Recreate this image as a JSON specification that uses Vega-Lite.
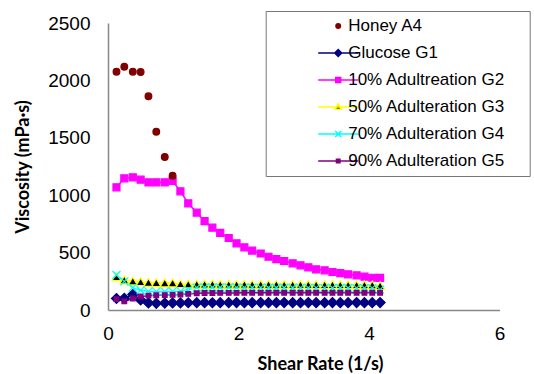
{
  "$schema": "https://vega.github.io/schema/vega-lite/v6.json",
  "width": 391.5,
  "height": 287,
  "autosize": {"type": "none"},
  "padding": {"left": 108, "top": 23, "right": 34.5, "bottom": 64},
  "background": "white",
  "config": {"view": {"stroke": null}},
  "data": {"values": [
    {"series": "Glucose G1", "x": 0.13, "y": 100}, {"series": "Glucose G1", "x": 0.25, "y": 102}, {"series": "Glucose G1", "x": 0.38, "y": 135}, {"series": "Glucose G1", "x": 0.50, "y": 87},
    {"series": "Glucose G1", "x": 0.62, "y": 62}, {"series": "Glucose G1", "x": 0.74, "y": 58}, {"series": "Glucose G1", "x": 0.87, "y": 60}, {"series": "Glucose G1", "x": 0.99, "y": 62},
    {"series": "Glucose G1", "x": 1.11, "y": 62}, {"series": "Glucose G1", "x": 1.23, "y": 63}, {"series": "Glucose G1", "x": 1.36, "y": 64}, {"series": "Glucose G1", "x": 1.48, "y": 64},
    {"series": "Glucose G1", "x": 1.60, "y": 63}, {"series": "Glucose G1", "x": 1.72, "y": 64}, {"series": "Glucose G1", "x": 1.85, "y": 64}, {"series": "Glucose G1", "x": 1.97, "y": 65},
    {"series": "Glucose G1", "x": 2.09, "y": 64}, {"series": "Glucose G1", "x": 2.21, "y": 64}, {"series": "Glucose G1", "x": 2.34, "y": 65}, {"series": "Glucose G1", "x": 2.46, "y": 64},
    {"series": "Glucose G1", "x": 2.58, "y": 64}, {"series": "Glucose G1", "x": 2.70, "y": 65}, {"series": "Glucose G1", "x": 2.83, "y": 64}, {"series": "Glucose G1", "x": 2.95, "y": 64},
    {"series": "Glucose G1", "x": 3.07, "y": 65}, {"series": "Glucose G1", "x": 3.19, "y": 64}, {"series": "Glucose G1", "x": 3.32, "y": 64}, {"series": "Glucose G1", "x": 3.44, "y": 65},
    {"series": "Glucose G1", "x": 3.56, "y": 64}, {"series": "Glucose G1", "x": 3.68, "y": 64}, {"series": "Glucose G1", "x": 3.81, "y": 65}, {"series": "Glucose G1", "x": 3.93, "y": 64},
    {"series": "Glucose G1", "x": 4.05, "y": 64}, {"series": "Glucose G1", "x": 4.17, "y": 65},

    {"series": "10% Adultreation G2", "x": 0.13, "y": 1069}, {"series": "10% Adultreation G2", "x": 0.25, "y": 1147}, {"series": "10% Adultreation G2", "x": 0.38, "y": 1156}, {"series": "10% Adultreation G2", "x": 0.50, "y": 1135},
    {"series": "10% Adultreation G2", "x": 0.62, "y": 1112}, {"series": "10% Adultreation G2", "x": 0.74, "y": 1112}, {"series": "10% Adultreation G2", "x": 0.87, "y": 1112}, {"series": "10% Adultreation G2", "x": 0.99, "y": 1124},
    {"series": "10% Adultreation G2", "x": 1.11, "y": 1034}, {"series": "10% Adultreation G2", "x": 1.23, "y": 929}, {"series": "10% Adultreation G2", "x": 1.36, "y": 848}, {"series": "10% Adultreation G2", "x": 1.48, "y": 775},
    {"series": "10% Adultreation G2", "x": 1.60, "y": 717}, {"series": "10% Adultreation G2", "x": 1.72, "y": 671}, {"series": "10% Adultreation G2", "x": 1.85, "y": 627}, {"series": "10% Adultreation G2", "x": 1.97, "y": 581},
    {"series": "10% Adultreation G2", "x": 2.09, "y": 546}, {"series": "10% Adultreation G2", "x": 2.21, "y": 517}, {"series": "10% Adultreation G2", "x": 2.34, "y": 492}, {"series": "10% Adultreation G2", "x": 2.46, "y": 464},
    {"series": "10% Adultreation G2", "x": 2.58, "y": 443}, {"series": "10% Adultreation G2", "x": 2.70, "y": 427}, {"series": "10% Adultreation G2", "x": 2.83, "y": 407}, {"series": "10% Adultreation G2", "x": 2.95, "y": 389},
    {"series": "10% Adultreation G2", "x": 3.07, "y": 372}, {"series": "10% Adultreation G2", "x": 3.19, "y": 354}, {"series": "10% Adultreation G2", "x": 3.32, "y": 346}, {"series": "10% Adultreation G2", "x": 3.44, "y": 331},
    {"series": "10% Adultreation G2", "x": 3.56, "y": 322}, {"series": "10% Adultreation G2", "x": 3.68, "y": 311}, {"series": "10% Adultreation G2", "x": 3.81, "y": 302}, {"series": "10% Adultreation G2", "x": 3.93, "y": 290},
    {"series": "10% Adultreation G2", "x": 4.05, "y": 281}, {"series": "10% Adultreation G2", "x": 4.17, "y": 279},

    {"series": "50% Adulteration G3", "x": 0.13, "y": 290}, {"series": "50% Adulteration G3", "x": 0.25, "y": 262}, {"series": "50% Adulteration G3", "x": 0.38, "y": 252}, {"series": "50% Adulteration G3", "x": 0.50, "y": 246},
    {"series": "50% Adulteration G3", "x": 0.62, "y": 240}, {"series": "50% Adulteration G3", "x": 0.74, "y": 238}, {"series": "50% Adulteration G3", "x": 0.87, "y": 236}, {"series": "50% Adulteration G3", "x": 0.99, "y": 236},
    {"series": "50% Adulteration G3", "x": 1.11, "y": 228}, {"series": "50% Adulteration G3", "x": 1.23, "y": 226}, {"series": "50% Adulteration G3", "x": 1.36, "y": 225}, {"series": "50% Adulteration G3", "x": 1.48, "y": 225},
    {"series": "50% Adulteration G3", "x": 1.60, "y": 225}, {"series": "50% Adulteration G3", "x": 1.72, "y": 224}, {"series": "50% Adulteration G3", "x": 1.85, "y": 224}, {"series": "50% Adulteration G3", "x": 1.97, "y": 224},
    {"series": "50% Adulteration G3", "x": 2.09, "y": 224}, {"series": "50% Adulteration G3", "x": 2.21, "y": 223}, {"series": "50% Adulteration G3", "x": 2.34, "y": 223}, {"series": "50% Adulteration G3", "x": 2.46, "y": 223},
    {"series": "50% Adulteration G3", "x": 2.58, "y": 223}, {"series": "50% Adulteration G3", "x": 2.70, "y": 222}, {"series": "50% Adulteration G3", "x": 2.83, "y": 222}, {"series": "50% Adulteration G3", "x": 2.95, "y": 222},
    {"series": "50% Adulteration G3", "x": 3.07, "y": 222}, {"series": "50% Adulteration G3", "x": 3.19, "y": 221}, {"series": "50% Adulteration G3", "x": 3.32, "y": 221}, {"series": "50% Adulteration G3", "x": 3.44, "y": 221},
    {"series": "50% Adulteration G3", "x": 3.56, "y": 220}, {"series": "50% Adulteration G3", "x": 3.68, "y": 220}, {"series": "50% Adulteration G3", "x": 3.81, "y": 220}, {"series": "50% Adulteration G3", "x": 3.93, "y": 219},
    {"series": "50% Adulteration G3", "x": 4.05, "y": 219}, {"series": "50% Adulteration G3", "x": 4.17, "y": 212},

    {"series": "70% Adulteration G4", "x": 0.13, "y": 305}, {"series": "70% Adulteration G4", "x": 0.25, "y": 250}, {"series": "70% Adulteration G4", "x": 0.38, "y": 195}, {"series": "70% Adulteration G4", "x": 0.50, "y": 172},
    {"series": "70% Adulteration G4", "x": 0.62, "y": 162}, {"series": "70% Adulteration G4", "x": 0.74, "y": 160}, {"series": "70% Adulteration G4", "x": 0.87, "y": 160}, {"series": "70% Adulteration G4", "x": 0.99, "y": 162},
    {"series": "70% Adulteration G4", "x": 1.11, "y": 164}, {"series": "70% Adulteration G4", "x": 1.23, "y": 178}, {"series": "70% Adulteration G4", "x": 1.36, "y": 195}, {"series": "70% Adulteration G4", "x": 1.48, "y": 196},
    {"series": "70% Adulteration G4", "x": 1.60, "y": 196}, {"series": "70% Adulteration G4", "x": 1.72, "y": 196}, {"series": "70% Adulteration G4", "x": 1.85, "y": 196}, {"series": "70% Adulteration G4", "x": 1.97, "y": 195},
    {"series": "70% Adulteration G4", "x": 2.09, "y": 195}, {"series": "70% Adulteration G4", "x": 2.21, "y": 195}, {"series": "70% Adulteration G4", "x": 2.34, "y": 195}, {"series": "70% Adulteration G4", "x": 2.46, "y": 194},
    {"series": "70% Adulteration G4", "x": 2.58, "y": 194}, {"series": "70% Adulteration G4", "x": 2.70, "y": 194}, {"series": "70% Adulteration G4", "x": 2.83, "y": 194}, {"series": "70% Adulteration G4", "x": 2.95, "y": 193},
    {"series": "70% Adulteration G4", "x": 3.07, "y": 193}, {"series": "70% Adulteration G4", "x": 3.19, "y": 193}, {"series": "70% Adulteration G4", "x": 3.32, "y": 193}, {"series": "70% Adulteration G4", "x": 3.44, "y": 192},
    {"series": "70% Adulteration G4", "x": 3.56, "y": 192}, {"series": "70% Adulteration G4", "x": 3.68, "y": 192}, {"series": "70% Adulteration G4", "x": 3.81, "y": 191}, {"series": "70% Adulteration G4", "x": 3.93, "y": 191},
    {"series": "70% Adulteration G4", "x": 4.05, "y": 190}, {"series": "70% Adulteration G4", "x": 4.17, "y": 178},

    {"series": "90% Adulteration G5", "x": 0.13, "y": 95}, {"series": "90% Adulteration G5", "x": 0.25, "y": 75}, {"series": "90% Adulteration G5", "x": 0.38, "y": 100}, {"series": "90% Adulteration G5", "x": 0.50, "y": 118},
    {"series": "90% Adulteration G5", "x": 0.62, "y": 125}, {"series": "90% Adulteration G5", "x": 0.74, "y": 128}, {"series": "90% Adulteration G5", "x": 0.87, "y": 130}, {"series": "90% Adulteration G5", "x": 0.99, "y": 132},
    {"series": "90% Adulteration G5", "x": 1.11, "y": 135}, {"series": "90% Adulteration G5", "x": 1.23, "y": 140}, {"series": "90% Adulteration G5", "x": 1.36, "y": 146}, {"series": "90% Adulteration G5", "x": 1.48, "y": 148},
    {"series": "90% Adulteration G5", "x": 1.60, "y": 148}, {"series": "90% Adulteration G5", "x": 1.72, "y": 149}, {"series": "90% Adulteration G5", "x": 1.85, "y": 149}, {"series": "90% Adulteration G5", "x": 1.97, "y": 149},
    {"series": "90% Adulteration G5", "x": 2.09, "y": 150}, {"series": "90% Adulteration G5", "x": 2.21, "y": 150}, {"series": "90% Adulteration G5", "x": 2.34, "y": 150}, {"series": "90% Adulteration G5", "x": 2.46, "y": 150},
    {"series": "90% Adulteration G5", "x": 2.58, "y": 150}, {"series": "90% Adulteration G5", "x": 2.70, "y": 150}, {"series": "90% Adulteration G5", "x": 2.83, "y": 150}, {"series": "90% Adulteration G5", "x": 2.95, "y": 150},
    {"series": "90% Adulteration G5", "x": 3.07, "y": 150}, {"series": "90% Adulteration G5", "x": 3.19, "y": 150}, {"series": "90% Adulteration G5", "x": 3.32, "y": 150}, {"series": "90% Adulteration G5", "x": 3.44, "y": 150},
    {"series": "90% Adulteration G5", "x": 3.56, "y": 150}, {"series": "90% Adulteration G5", "x": 3.68, "y": 150}, {"series": "90% Adulteration G5", "x": 3.81, "y": 150}, {"series": "90% Adulteration G5", "x": 3.93, "y": 150},
    {"series": "90% Adulteration G5", "x": 4.05, "y": 150}, {"series": "90% Adulteration G5", "x": 4.17, "y": 150},

    {"series": "Honey A4", "x": 0.13, "y": 2076}, {"series": "Honey A4", "x": 0.25, "y": 2119}, {"series": "Honey A4", "x": 0.38, "y": 2076}, {"series": "Honey A4", "x": 0.50, "y": 2073},
    {"series": "Honey A4", "x": 0.62, "y": 1862}, {"series": "Honey A4", "x": 0.74, "y": 1553}, {"series": "Honey A4", "x": 0.87, "y": 1333}, {"series": "Honey A4", "x": 0.99, "y": 1170}
  ]},
  "encoding": {
    "x": {"field": "x", "type": "quantitative", "scale": {"domain": [0, 6], "nice": false},
      "axis": {"values": [0, 2, 4, 6], "ticks": false, "grid": false, "domainColor": "#888888", "domainWidth": 1.5,
        "labelFont": "Liberation Sans", "labelFontSize": 19, "labelColor": "black", "labelPadding": 14, "labelFlush": false,
        "title": "Shear Rate (1/s)", "titleFont": "Lato", "titleFontWeight": "bold", "titleFontSize": 18, "titleColor": "black",
        "titleX": 212, "titleY": 59, "titleBaseline": "alphabetic"}},
    "y": {"field": "y", "type": "quantitative", "scale": {"domain": [0, 2500], "nice": false},
      "axis": {"values": [0, 500, 1000, 1500, 2000, 2500], "format": "d", "ticks": false, "grid": false, "domainColor": "#888888", "domainWidth": 1.5,
        "labelFont": "Liberation Sans", "labelFontSize": 19, "labelColor": "black", "labelPadding": 18, "labelFlush": false,
        "title": "Viscosity (mPa·s)", "titleFont": "Lato", "titleFontWeight": "bold", "titleFontSize": 18, "titleColor": "black",
        "titleX": -80, "titleY": 143.5, "titleBaseline": "alphabetic"}}
  },
  "layer": [
    {
      "transform": [{"filter": "datum.series !== 'Honey A4'"}],
      "mark": {"type": "line", "strokeWidth": 1.5,
        "stroke": {"expr": "datum.series === 'Glucose G1' ? '#000080' : datum.series === '10% Adultreation G2' ? '#FF00FF' : datum.series === '50% Adulteration G3' ? '#FFFF00' : datum.series === '70% Adulteration G4' ? '#00FFFF' : '#800080'"}},
      "encoding": {
        "detail": {"field": "series", "type": "nominal"}
      }
    },
    {
      "mark": {"type": "point", "opacity": 1, "strokeWidth": 1.2,
        "shape": {"expr": "datum.series === 'Honey A4' ? 'circle' : datum.series === 'Glucose G1' ? 'diamond' : datum.series === '50% Adulteration G3' ? 'triangle-up' : datum.series === '70% Adulteration G4' ? 'M-1,-1L1,1M-1,1L1,-1' : 'square'"},
        "fill": {"expr": "datum.series === 'Honey A4' ? '#800000' : datum.series === 'Glucose G1' ? '#000080' : datum.series === '10% Adultreation G2' ? '#FF00FF' : datum.series === '50% Adulteration G3' ? '#000000' : datum.series === '70% Adulteration G4' ? 'transparent' : '#800080'"},
        "stroke": {"expr": "datum.series === 'Honey A4' ? '#800000' : datum.series === 'Glucose G1' ? '#000080' : datum.series === '10% Adultreation G2' ? '#FF00FF' : datum.series === '50% Adulteration G3' ? '#FFFF00' : datum.series === '70% Adulteration G4' ? '#00FFFF' : '#800080'"},
        "size": {"expr": "datum.series === 'Honey A4' ? 45 : datum.series === 'Glucose G1' ? 100 : datum.series === '10% Adultreation G2' ? 49 : datum.series === '90% Adulteration G5' ? 22 : datum.series === '50% Adulteration G3' ? 80 : 64"}}
    },
    {
      "transform": [{"filter": "false"}],
      "mark": {"type": "point", "opacity": 1, "strokeWidth": 1.2,
        "fill": {"expr": "datum.value === 'Honey A4' ? '#800000' : datum.value === 'Glucose G1' ? '#000080' : datum.value === '10% Adultreation G2' ? '#FF00FF' : datum.value === '50% Adulteration G3' ? '#000000' : datum.value === '70% Adulteration G4' ? 'transparent' : '#800080'"},
        "stroke": {"expr": "datum.value === 'Honey A4' ? '#800000' : datum.value === 'Glucose G1' ? '#000080' : datum.value === '10% Adultreation G2' ? '#FF00FF' : datum.value === '50% Adulteration G3' ? '#FFFF00' : datum.value === '70% Adulteration G4' ? '#00FFFF' : '#800080'"}},
      "encoding": {
        "shape": {"field": "series", "type": "nominal",
          "scale": {"domain": ["Honey A4", "Glucose G1", "10% Adultreation G2", "50% Adulteration G3", "70% Adulteration G4", "90% Adulteration G5"],
                    "range": ["M-0.45,0A0.45,0.45 0 1,0 0.45,0A0.45,0.45 0 1,0 -0.45,0ZM36.4,0", "M-4,0H4M-0.7,0L0,-0.7L0.7,0L0,0.7Z", "M-4,0H4M-0.5,-0.5H0.5V0.5H-0.5Z", "M-4,0H4M0,-0.65L0.6,0.45H-0.6Z", "M-4,0H4M-0.6,-0.6L0.6,0.6M-0.6,0.6L0.6,-0.6", "M-4,0H4M-0.35,-0.35H0.35V0.35H-0.35Z"]},
          "legend": {
            "orient": "none", "legendX": 157.7, "legendY": -12, "title": null,
            "padding": 6.5, "rowPadding": 9.0, "symbolOffset": 57.5, "labelOffset": 1.5,
            "labelFont": "Liberation Sans", "labelFontSize": 17, "labelColor": "black", "labelLimit": 300,
            "strokeColor": "#777777", "symbolSize": 100
          }}
      }
    }
  ]
}
